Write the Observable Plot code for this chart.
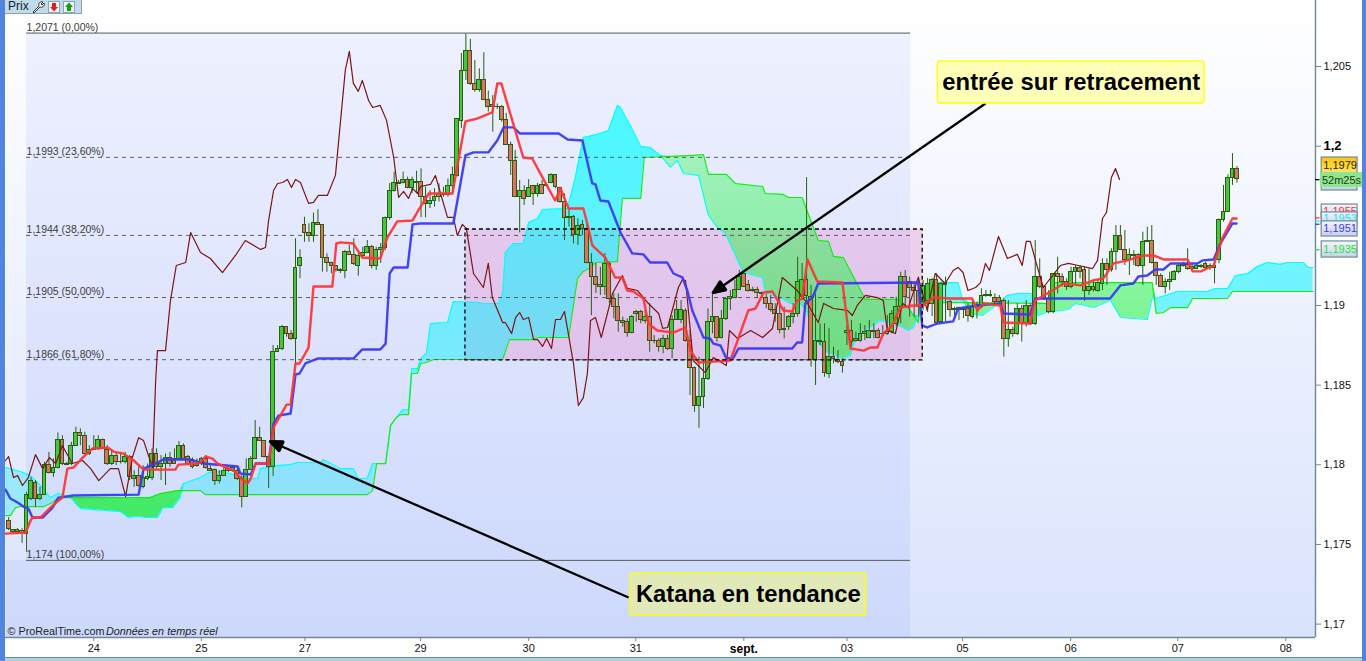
<!DOCTYPE html>
<html lang="fr">
<head>
<meta charset="utf-8">
<title>Prix</title>
<script src="https://cdn.jsdelivr.net/npm/d3@7"></script>
<script src="https://cdn.jsdelivr.net/npm/@observablehq/plot@0.6"></script>
<style>
html,body{margin:0;padding:0;background:#fff;overflow:hidden;width:1366px;height:661px;font-family:"Liberation Sans",Arial,sans-serif}
#wrap{position:relative;width:1366px;height:661px}
#wrap svg.plot{position:absolute;left:0;top:0}
.bar{position:absolute}
#tools{position:absolute;left:5px;top:0;width:77px;height:14px;background:#c3dbe8;border-bottom:1px solid #8aa4b4;border-right:1px solid #8aa4b4;font-size:12px;line-height:13px;color:#123;padding-left:3px;box-sizing:border-box;display:flex;align-items:center;gap:3px}
</style>
</head>
<body>
<div id="wrap"></div>
<script>
// Candles, one per hour
const opens=[1.17649,1.17593,1.17591,1.17582,1.17566,1.17788,1.17884,1.17786,1.17811,1.17999,1.17949,1.1798,1.18156,1.18008,1.18005,1.1812,1.182,1.18183,1.18068,1.18095,1.181,1.18156,1.18095,1.18005,1.18053,1.18016,1.1802,1.18051,1.1791,1.17927,1.17859,1.17912,1.17918,1.18068,1.17984,1.18005,1.18043,1.18037,1.18037,1.18116,1.18047,1.1803,1.18005,1.18005,1.18037,1.17974,1.17968,1.17897,1.17932,1.17974,1.17964,1.17964,1.17912,1.17796,1.17968,1.18034,1.18166,1.18152,1.18047,1.17984,
1.18706,1.18728,1.18864,1.18822,1.18791,1.19247,1.19506,1.19456,1.19435,1.19519,1.19506,1.193,1.19268,1.19247,1.19214,1.19215,1.19334,1.19318,1.19247,1.1931,1.19329,1.19366,1.19247,1.1935,1.1936,1.19551,1.19718,1.19768,1.19768,1.19789,1.19737,1.19769,1.19774,1.1968,1.19639,1.19653,1.1968,1.19701,1.19691,1.19749,1.19816,1.2016,1.2047,1.20599,1.20392,1.2035,1.20417,1.20291,1.20256,1.20249,1.20246,1.20162,1.2001,1.19906,1.19684,1.19718,1.1968,1.1975,1.19701,1.19754,1.19754,1.1977,1.1982,1.19737,1.19649,1.19551,1.19555,1.1944,1.19506,1.19481,1.19268,1.19182,
1.1913,1.19115,1.19262,1.19042,1.18989,1.189,1.18895,1.18829,1.18948,1.18958,1.189,1.18927,1.1878,1.18776,1.18738,1.18791,1.18728,1.1891,1.1891,1.18964,1.18776,1.18609,1.18372,1.18424,1.1854,1.18895,1.18927,1.18795,1.18916,1.19042,1.19048,1.19099,1.19199,1.1913,1.19092,1.191,1.1908,1.19048,1.19011,1.18969,1.18948,1.18854,1.18862,1.18927,1.18948,1.19052,1.19161,1.19052,1.18659,1.1878,1.1877,1.18571,1.18675,1.18655,1.18644,1.18829,1.18839,1.18791,1.1878,1.18822,1.18797,1.18834,1.18839,1.18824,1.18822,1.18833,1.18885,1.18989,1.19182,1.19146,1.19109,1.19094,1.19021,1.19031,1.19011,1.19161,
1.18895,1.1913,1.19021,1.18979,1.18969,1.18969,1.18979,1.18927,1.19,1.18989,1.19058,1.19063,1.19046,1.19046,1.19027,1.18791,1.18847,1.18822,1.18979,1.18889,1.18996,1.18881,1.19182,1.19115,1.19042,1.18962,1.19195,1.19178,1.19146,1.19115,1.19209,1.19236,1.1922,1.1909,1.19115,1.19094,1.19136,1.19262,1.1922,1.19334,1.19435,1.1935,1.19287,1.19308,1.19314,1.19251,1.19397,1.19402,1.19268,1.19184,1.19115,1.19146,1.19163,1.19209,1.19247,1.19255,1.19232,1.1923,1.1924,1.19262,1.19245,1.19236,1.19283,1.19534,1.19588,1.198,1.19859];
const closes=[1.17597,1.17578,1.17576,1.17569,1.17811,1.17901,1.17786,1.17811,1.17999,1.17949,1.1798,1.18156,1.18005,1.18001,1.1812,1.182,1.18183,1.18068,1.18095,1.181,1.18156,1.181,1.18005,1.18053,1.1802,1.1802,1.18051,1.17921,1.17927,1.17869,1.17915,1.17921,1.18068,1.17984,1.18005,1.18043,1.18005,1.18005,1.18116,1.18037,1.18005,1.17984,1.1799,1.18034,1.1798,1.17964,1.17897,1.17932,1.1796,1.17964,1.1798,1.17912,1.17796,1.17968,1.18034,1.18166,1.18152,1.18047,1.17984,1.18707,
1.18728,1.18864,1.18822,1.18791,1.19236,1.193,1.19456,1.19435,1.19519,1.19506,1.193,1.19268,1.19247,1.1922,1.1922,1.19334,1.19318,1.19262,1.1931,1.19329,1.19366,1.19247,1.1935,1.1936,1.19551,1.19718,1.19768,1.19763,1.19789,1.19737,1.19789,1.19774,1.1968,1.19639,1.19653,1.1968,1.19701,1.19691,1.19749,1.1982,1.20172,1.2047,1.20599,1.20392,1.2035,1.20417,1.20291,1.20249,1.20246,1.20243,1.20162,1.2001,1.19906,1.19684,1.19718,1.1967,1.19737,1.19701,1.1975,1.19701,1.19748,1.1982,1.19743,1.19649,1.19551,1.19555,1.1944,1.19502,1.19481,1.19268,1.19182,1.1913,
1.19119,1.19262,1.19042,1.18989,1.189,1.18891,1.18829,1.18927,1.18958,1.1891,1.18927,1.1878,1.18776,1.18738,1.18791,1.18728,1.18906,1.18969,1.18969,1.18776,1.18609,1.18372,1.18424,1.1854,1.18895,1.18927,1.18795,1.18916,1.19042,1.19052,1.19099,1.19182,1.19115,1.19094,1.191,1.1908,1.19073,1.19011,1.18969,1.18948,1.18849,1.18849,1.18927,1.18948,1.19146,1.19157,1.19058,1.18659,1.1878,1.18768,1.18575,1.18675,1.18665,1.18644,1.18623,1.18842,1.1877,1.1878,1.18822,1.18833,1.18839,1.18839,1.18797,1.18818,1.18833,1.18948,1.18989,1.19178,1.19052,1.19109,1.19094,1.18989,1.19122,1.19138,1.19161,1.18889,
1.19136,1.1914,1.18973,1.18969,1.18983,1.18979,1.18933,1.18989,1.18989,1.19058,1.19063,1.19058,1.19021,1.19021,1.18791,1.18847,1.18822,1.18979,1.18889,1.18996,1.18885,1.19182,1.19115,1.19042,1.18958,1.19195,1.19178,1.19146,1.19115,1.19209,1.19236,1.19209,1.1909,1.19115,1.19099,1.1914,1.19262,1.1922,1.19334,1.19435,1.1935,1.19287,1.19318,1.19318,1.19251,1.19397,1.19402,1.19268,1.19188,1.19119,1.19146,1.19163,1.19209,1.19247,1.19255,1.1923,1.19239,1.19247,1.19245,1.19237,1.19237,1.19251,1.19538,1.19588,1.198,1.19859,1.19791];
const highs=[1.17668,1.17593,1.17599,1.17599,1.17828,1.17921,1.17901,1.17859,1.18016,1.18078,1.18037,1.182,1.18183,1.18016,1.18141,1.18236,1.18226,1.18204,1.1812,1.18183,1.18183,1.18162,1.1812,1.18089,1.18078,1.18078,1.18078,1.18058,1.17963,1.17984,1.17995,1.18005,1.181,1.181,1.18058,1.18068,1.18078,1.181,1.18146,1.18131,1.18058,1.18043,1.18037,1.18047,1.18058,1.17995,1.17974,1.17963,1.17984,1.17984,1.17995,1.17984,1.17932,1.18037,1.18051,1.18278,1.18236,1.18152,1.18047,1.18749,
1.18749,1.18874,1.18864,1.18843,1.19419,1.1935,1.19554,1.19513,1.1958,1.19601,1.19506,1.19324,1.19272,1.19251,1.19231,1.19345,1.19377,1.19419,1.19324,1.19366,1.19408,1.19377,1.19366,1.19389,1.19555,1.19766,1.19837,1.19785,1.19837,1.19806,1.19806,1.19843,1.19858,1.19743,1.19722,1.19733,1.19764,1.19743,1.19794,1.19869,1.20172,1.20582,1.20702,1.2067,1.20538,1.20486,1.20587,1.20346,1.20318,1.20265,1.20256,1.20206,1.20026,1.19973,1.19785,1.19753,1.1979,1.19754,1.19766,1.19785,1.19764,1.19827,1.1982,1.19743,1.19701,1.19607,1.19565,1.19544,1.19534,1.19513,1.19325,1.19264,
1.1924,1.19327,1.19272,1.19075,1.19073,1.18927,1.18916,1.18937,1.18969,1.18969,1.18969,1.19011,1.18812,1.18791,1.18812,1.18812,1.18937,1.19031,1.19031,1.18979,1.18843,1.18613,1.18675,1.18655,1.18979,1.19084,1.18927,1.18969,1.19042,1.19094,1.19157,1.1922,1.19209,1.19157,1.19115,1.19115,1.19084,1.19073,1.19063,1.19011,1.19052,1.18989,1.18937,1.19011,1.19303,1.19264,1.19802,1.19126,1.19073,1.18885,1.18885,1.18854,1.18738,1.18717,1.18665,1.18873,1.18906,1.18833,1.18885,1.18874,1.18906,1.18885,1.18854,1.18874,1.18937,1.18969,1.19052,1.19209,1.1922,1.19178,1.19146,1.19178,1.19157,1.1917,1.1917,1.19199,
1.19146,1.19178,1.19031,1.18989,1.18989,1.18989,1.19011,1.19031,1.19021,1.19105,1.19094,1.19094,1.19073,1.19063,1.19042,1.19031,1.18864,1.19011,1.19,1.19031,1.19011,1.19408,1.19293,1.19126,1.19094,1.19199,1.19303,1.19199,1.19168,1.1924,1.19251,1.19251,1.19245,1.1923,1.19157,1.19157,1.19293,1.19293,1.19356,1.19502,1.19502,1.19471,1.19356,1.19345,1.19325,1.1946,1.19492,1.19502,1.19272,1.19199,1.19168,1.19209,1.1922,1.19262,1.19272,1.19356,1.19262,1.19262,1.19257,1.19272,1.19262,1.19272,1.19544,1.19754,1.1982,1.19953,1.19873];
const lows=[1.17587,1.17568,1.17568,1.17507,1.17451,1.17775,1.17733,1.17775,1.17807,1.17943,1.17921,1.17974,1.17995,1.17995,1.17995,1.1812,1.1812,1.18064,1.18058,1.18095,1.18089,1.181,1.17995,1.17995,1.17995,1.18005,1.18005,1.17901,1.17859,1.17859,1.17849,1.17901,1.17901,1.17974,1.17901,1.1787,1.17984,1.18005,1.18027,1.18027,1.17995,1.17974,1.17984,1.17995,1.17974,1.17964,1.1787,1.1788,1.17932,1.17953,1.17953,1.17901,1.17729,1.17796,1.17964,1.18033,1.18152,1.18043,1.17851,1.17926,
1.18706,1.18717,1.18801,1.1878,1.18623,1.19168,1.19397,1.19397,1.19397,1.19502,1.19209,1.19209,1.19199,1.19209,1.19201,1.19168,1.19314,1.19251,1.19184,1.19303,1.19325,1.1923,1.1922,1.19264,1.19345,1.19534,1.19712,1.1976,1.19764,1.19733,1.19703,1.19703,1.19551,1.19551,1.19609,1.19617,1.19649,1.1968,1.1968,1.19701,1.19806,1.20112,1.20413,1.20381,1.20339,1.20339,1.20287,1.20214,1.20088,1.2023,1.20151,1.20005,1.19816,1.1968,1.19456,1.19628,1.1968,1.19628,1.1968,1.19701,1.19743,1.19764,1.19733,1.19642,1.19408,1.19492,1.19387,1.19377,1.1944,1.19261,1.18937,1.19075,
1.19063,1.19063,1.19013,1.18916,1.18832,1.18864,1.18801,1.18822,1.18895,1.18885,1.18885,1.18707,1.1876,1.18707,1.18697,1.18717,1.18665,1.18906,1.18885,1.1877,1.18435,1.1833,1.18229,1.18353,1.18529,1.18822,1.1877,1.18791,1.18906,1.18969,1.19042,1.19094,1.19115,1.19084,1.19084,1.19042,1.19063,1.18979,1.18958,1.18895,1.18822,1.18791,1.18843,1.18885,1.18927,1.19031,1.19013,1.18613,1.18498,1.18749,1.1855,1.18542,1.18634,1.18634,1.18575,1.18749,1.18738,1.1877,1.1877,1.1878,1.18791,1.18791,1.18791,1.18801,1.18812,1.18822,1.18864,1.18885,1.18989,1.18927,1.18927,1.18927,1.18969,1.18956,1.18931,1.18885,
1.18885,1.18895,1.18927,1.18916,1.18906,1.18918,1.18895,1.18916,1.18916,1.18979,1.19052,1.19052,1.19011,1.19011,1.18675,1.18738,1.18801,1.18812,1.1877,1.18864,1.18874,1.18874,1.19105,1.19031,1.18948,1.18948,1.19073,1.19115,1.19094,1.19105,1.19126,1.19168,1.19027,1.19063,1.19084,1.19084,1.19094,1.19126,1.19209,1.1922,1.19345,1.19251,1.19188,1.19251,1.1924,1.19126,1.19397,1.19261,1.19126,1.19115,1.19073,1.19094,1.19157,1.19199,1.1924,1.1922,1.1922,1.19224,1.19232,1.1923,1.1922,1.19136,1.19262,1.19523,1.19586,1.19754,1.19768];
const firstBarHour=-19;

// Conversion line (red)
const tenkanHour=[-19.7,-15.2,-14.1,-13.7,-11.9,-9.2,-7,-5.9,-4.5,-2.5,-0.3,3.1,4.4,6.6,8.9,11.1,18.2,18.9,23.1,23.8,24.9,26.5,27.6,31.2,32.7,34.3,35,36.1,39,40.1,41,43,43.9,45,45.9,47.9,49,53.2,54.1,55,57.9,59.9,63.9,65.5,67.7,71.1,72.4,74.7,80,82.9,85.6,88.9,90,90.9,95.8,97.8,99.6,102.9,104.1,105.9,109.2,110.3,111.2,114.1,116.3,117.9,119,120.4,122.6,123.7,125.7,129.3,132,133.1,134.9,138.2,142,143.6,146,147.6,149.4,151.4,153.8,155.8,156.9,158,159.2,161.4,167,168.8,171.7,173.2,174.8,176.1,178.1,179.9,182.8,185,187.3,191,195.9,197.1,198.4,202.2,202.9,208.9,210,212.7,214.9,216.3,220.1,222.8,225.2,227.5,230.6,234.1,236.4,238.6,244,245.1,246.9,249.8,251.8,254,254.9];
const tenkanPrice=[1.17568,1.17574,1.1765,1.17669,1.17669,1.17744,1.17794,1.17976,1.17983,1.18045,1.18102,1.18108,1.18083,1.1807,1.18027,1.1797,1.1797,1.18001,1.18008,1.18014,1.18052,1.18039,1.18008,1.17964,1.1792,1.17882,1.17914,1.18008,1.18008,1.18234,1.18278,1.18378,1.18378,1.18636,1.18636,1.18736,1.19119,1.19119,1.19389,1.19396,1.19389,1.19301,1.19295,1.19427,1.19528,1.19534,1.19597,1.19703,1.19703,1.20156,1.20174,1.20212,1.20394,1.20394,1.19929,1.19923,1.19829,1.19659,1.19735,1.19609,1.19609,1.1949,1.19377,1.19301,1.19176,1.19176,1.19094,1.19088,1.19044,1.18887,1.18843,1.1883,1.18862,1.18717,1.18642,1.18648,1.18655,1.1878,1.18969,1.18981,1.19082,1.19088,1.18969,1.18962,1.19031,1.19044,1.19289,1.19151,1.19144,1.1873,1.18717,1.18736,1.18736,1.18824,1.18874,1.18987,1.19,1.19,1.1905,1.19044,1.19044,1.18969,1.19013,1.19,1.18893,1.18887,1.19031,1.19075,1.19113,1.19138,1.19126,1.19157,1.1917,1.19264,1.19283,1.19314,1.19314,1.19289,1.19289,1.19214,1.19214,1.19251,1.19427,1.19546,1.19546];

// Base line (blue)
const kijunHour=[-19.7,-18.6,-17,-15.7,-14.6,-13.7,-11.4,-9.2,-7.9,-4.5,10,11.1,13.8,15.5,21.6,24.5,32.1,32.7,35,36.1,39,40.1,41.2,43.9,45,45.9,47.2,49.9,57.9,59.9,63.9,65.1,66,66.9,70,71.1,72.9,80.2,82.9,84.7,88,90,91.4,93.6,95,103.7,105.7,109,111.2,111.9,113,114.8,117.5,120.1,122.6,124.1,127.9,129.3,131.3,132.4,133.5,136,137.5,138.2,139.8,141.1,142.7,143.8,155.8,156.9,158,158.7,160.3,161.6,183.9,184.8,185.9,188.2,191.7,192.8,197.1,202.2,202.9,208.9,210,226.7,229,231.9,233,235,236.8,238.6,240.2,246.2,247.3,249.8,251.3,254,254.9];
const kijunPrice=[1.17844,1.17788,1.17763,1.17738,1.17725,1.17669,1.17669,1.17731,1.17794,1.17807,1.17813,1.17976,1.18008,1.18033,1.18033,1.18008,1.17989,1.17945,1.17939,1.18008,1.18008,1.18259,1.18309,1.18322,1.18567,1.18573,1.18636,1.18667,1.18667,1.18724,1.18724,1.18761,1.19201,1.19239,1.19239,1.19509,1.19515,1.19515,1.19942,1.19961,1.19961,1.20036,1.20118,1.20118,1.2008,1.2008,1.20042,1.20036,1.19766,1.1976,1.19659,1.19653,1.19458,1.19327,1.19321,1.1927,1.1927,1.19201,1.19176,1.19094,1.18969,1.18799,1.18793,1.18761,1.18749,1.18667,1.18673,1.1873,1.1873,1.18768,1.18768,1.19013,1.1905,1.19138,1.19144,1.18874,1.18862,1.18887,1.189,1.18981,1.19,1.19013,1.1895,1.18943,1.19044,1.19044,1.19126,1.19138,1.19182,1.19188,1.19226,1.19226,1.19264,1.19264,1.19283,1.19289,1.19389,1.19515,1.19515];

// Lagging span (dark red)
const chikouHour=[-19.7,-19,-17.9,-17,-15.9,-14.6,-13,-11.4,-9.9,-8.5,-7,-4.8,-2.5,-0.7,1.1,3.7,5.5,7.1,8.6,10,11.1,13.1,13.8,14.2,16,17.1,18.4,20.5,21.6,23.8,26,28.7,31.6,33.8,37.2,38.3,39,40.1,41,42.1,43.2,44.1,45,46.1,47.9,49,50.1,52.1,53.9,56.1,57,57.9,59,59.9,61.3,62.2,63.9,65.3,66.9,68,69.1,70.2,71.1,72.2,72.9,75.1,76.2,78.9,80.2,81.1,82.2,83.1,84.7,86.9,88,88.9,91.2,91.8,93.2,94.1,95,95.8,97,98.1,99,100.1,101,102.1,103,104.1,105,107,108.1,109.2,110.1,110.8,111.9,113.2,115.7,117.9,119,121.3,123.5,126,126.9,128,130.4,131.3,132,133.7,136.4,138.2,141.1,141.8,143.6,146.5,149.2,151.4,153.6,156.9,159.2,161.6,162.8,165,168.1,169.2,170.3,172.1,174.8,176.1,177,178.8,180.4,181.7,183.9,185.9,187.7,189.9,191.7,192.8,193.9,195,196.7,197.8,198.9,199.8,201.8,203.8,206,207.1,208,208.9,210.5,211.8,215.6,217.4,219.6,222.8,223.9,225,225.9,227,227.9,228.8];
const chikouPrice=[1.18027,1.18052,1.1792,1.17932,1.1787,1.1792,1.18064,1.17976,1.18045,1.18008,1.1812,1.18008,1.18027,1.17976,1.17901,1.17976,1.17976,1.178,1.18045,1.1817,1.18152,1.17983,1.18529,1.18717,1.18717,1.19031,1.19251,1.1927,1.19458,1.19333,1.19295,1.19207,1.19314,1.19408,1.19352,1.19364,1.19534,1.19722,1.19766,1.19772,1.19791,1.19741,1.19791,1.19772,1.19641,1.19647,1.19691,1.19691,1.19817,1.20476,1.20595,1.20394,1.20344,1.20413,1.20287,1.20243,1.20256,1.20162,1.19929,1.19678,1.19716,1.19672,1.19735,1.19703,1.19747,1.1976,1.19816,1.19553,1.19553,1.1944,1.19509,1.19484,1.19201,1.19113,1.19264,1.1905,1.18893,1.18893,1.18824,1.18925,1.18956,1.18912,1.18925,1.18786,1.18786,1.18743,1.18793,1.1873,1.18912,1.18912,1.18962,1.18636,1.18372,1.18422,1.18573,1.18906,1.18925,1.18799,1.19075,1.19188,1.19107,1.19094,1.19019,1.1895,1.18856,1.18862,1.19113,1.19163,1.19157,1.18655,1.18579,1.18673,1.18623,1.18843,1.18793,1.18843,1.18799,1.18856,1.19176,1.19094,1.19013,1.18893,1.19013,1.18981,1.18969,1.18937,1.19,1.19063,1.1905,1.19031,1.18843,1.18824,1.19013,1.18987,1.19176,1.18969,1.19201,1.19138,1.1922,1.19239,1.19207,1.19094,1.19113,1.19144,1.19264,1.1922,1.19433,1.19295,1.19321,1.19251,1.19402,1.19402,1.19239,1.19113,1.19251,1.19264,1.19251,1.19232,1.19283,1.19546,1.19584,1.19804,1.1986,1.19791];

// Leading span A (cyan)
const spanAHour=[-19.7,-16.4,-14.1,-12.3,-9.7,-7.9,-5.2,-3,6,7.7,10,11.5,14.2,15.5,17.6,19.3,20,23.8,25.6,28.3,31.2,34.3,36.5,37.2,41,43.9,45.4,50.6,51.2,55,57.9,59,61,62.2,65.1,66.2,67.3,68.9,70.2,70.9,72.2,72.9,74.2,75.1,78.9,80.2,85.6,86.9,90.3,91.2,91.8,93.6,95.8,97,99,100.1,105.7,107.4,109.2,111.4,112.3,114.8,116.8,117.5,119.7,122,124.1,126.4,128.6,130.2,131.5,134.9,137.1,139.1,140.9,144.9,149.2,149.8,153.2,155.4,157.6,159.2,160.5,163.7,167.2,168.8,169.9,172.6,175.5,178.4,181.7,182.8,184.4,185.5,186.2,187.7,192.8,193.7,195.5,198.2,201.8,203.8,206,209.6,210.7,212.3,217.3,219,223,226.8,229,235,236.1,237,241.7,248.4,250.2,252.9,254.7,257.5,259.5,261.8,264.7,266.2,269.8,270.9,272];
const spanAPrice=[1.17983,1.17958,1.17932,1.17882,1.17794,1.1782,1.17794,1.17725,1.17706,1.17669,1.17675,1.17669,1.17669,1.17731,1.17731,1.17794,1.17882,1.1792,1.17951,1.17958,1.17939,1.17914,1.17914,1.17976,1.17995,1.18001,1.18014,1.18014,1.18033,1.17976,1.17976,1.17914,1.17914,1.18008,1.18008,1.18246,1.1829,1.18347,1.18347,1.18604,1.18604,1.18667,1.18699,1.18887,1.18893,1.19025,1.19019,1.19013,1.19013,1.19075,1.19333,1.19389,1.19389,1.19521,1.19546,1.19603,1.19609,1.19804,1.20055,1.20068,1.20074,1.20099,1.20256,1.20243,1.2013,1.19999,1.19992,1.19942,1.19867,1.19911,1.19829,1.19817,1.19565,1.1949,1.19452,1.19207,1.19176,1.19082,1.1905,1.19013,1.19013,1.18956,1.18799,1.18705,1.18667,1.18686,1.18793,1.18856,1.18906,1.18893,1.18843,1.18862,1.18969,1.19113,1.19075,1.19144,1.19144,1.19044,1.1895,1.18937,1.19013,1.19063,1.19075,1.19075,1.18937,1.18956,1.18975,1.19013,1.18987,1.19031,1.18925,1.18912,1.1905,1.19044,1.19088,1.19088,1.19107,1.19107,1.19188,1.19201,1.19245,1.1927,1.19258,1.1927,1.1927,1.19239,1.19239];

// Leading span B (green)
const spanBHour=[-19.7,-18.6,-17.5,-16.4,-11.2,-9.2,-7.9,12.6,14.9,18.7,23.8,24.9,61,62.2,63.1,65.1,66.2,67.3,68.4,70.2,70.9,72.2,72.9,74.2,75.8,91.2,92.7,97.8,99,105.9,107.9,109.2,110.8,111.9,116.8,117.9,122,122.8,133.8,136,137.1,141.1,143.1,149.2,149.8,153.8,155,158,161.6,163.9,165,167.2,172.1,179.5,181.7,183.9,184.4,212.7,214,236.1,237,238.6,240.2,244,245.1,252.9,254,272];
const spanBPrice=[1.17681,1.17681,1.17731,1.17738,1.17738,1.17763,1.17794,1.17794,1.1782,1.17838,1.17838,1.17813,1.17813,1.17838,1.18008,1.18008,1.18246,1.1829,1.18315,1.18315,1.18573,1.18573,1.18636,1.18642,1.18661,1.18661,1.18786,1.18786,1.18799,1.18799,1.1917,1.19214,1.19239,1.1927,1.19276,1.19672,1.19672,1.19929,1.19942,1.19948,1.19823,1.19823,1.19766,1.19747,1.19703,1.19697,1.19678,1.19678,1.19408,1.19402,1.19308,1.19301,1.19038,1.19038,1.18987,1.18893,1.19019,1.19013,1.19144,1.19144,1.1895,1.18956,1.18987,1.18987,1.19044,1.19044,1.19088,1.19088];

// Fibonacci levels
const fibLevels=[1.2071,1.1993,1.1944,1.1905,1.1866,1.174];
const fibLabels=["1,2071 (0,00%)","1,1993 (23,60%)","1,1944 (38,20%)","1,1905 (50,00%)","1,1866 (61,80%)","1,174 (100,00%)"];
const fibStartHour=-15, fibEndHour=182.2, plotStartHour=-19.696, plotEndHour=272.52, plotLow=1.169159, plotHigh=1.209146;

// Retracement zone
const zoneStartHour=82.9, zoneEndHour=184.9, zoneTop=1.19477, zoneBottom=1.18655;

// Axis labels
const xTickHours=[0,24,47.1,72.9,97,120.9,145,168,193.8,217.9,241.8,265.9];
const xTickLabels=["24","25","27","29","30","31","sept.","03","05","06","07","08"];
const yTickValues=[1.17,1.175,1.18,1.185,1.19,1.2,1.205];
const yTickLabels=["1,17","1,175","1,18","1,185","1,19","1,2","1,205"];

// Right-hand price tags
const tagLabels=["1,1975","1,1955","1,1953","1,1951","1,1935","1,1979","52m25s"];
const tagTops=[1.19835,1.19634,1.19584,1.19528,1.19402,1.19929,1.19835];
const tagBottoms=[1.19722,1.19546,1.19509,1.19433,1.19301,1.19829,1.19741];
const tagColors=["#8b1a3a","#ff3030","#18e8f0","#3a3af0","#18e818","#222222","#1d3d1d"];
const tagFills=["url(#tag)","url(#tag)","url(#tag)","url(#tag)","url(#tag)","url(#tagGold)","#8ee58c"];
const tagStroke=["#708a9a","#708a9a","#708a9a","#708a9a","#708a9a","#708a9a","none"];
const tagStartHours=[273.9,273.9,273.9,273.9,273.9,273.9,273.6];
const tagEndHours=[281.9,281.9,281.9,281.9,281.9,281.9,283];
const tagMarks=[1.1979,1.1955,1.1953,1.1951,1.1935];
const tagMarkColors=["#000000","#ff3030","#18e8f0","#3a3af0","#18e818"];

// Annotations
const noteTexts=["entrée sur retracement","Katana en tendance"];
const noteStart=[188.3,119.7], noteEnd=[247.8,172.3], noteTop=[1.20533,1.17317], noteBottom=[1.20268,1.17053];
const noteFill=["#ffffb8","#e1e9b9"];
const arrowFromHour=[198.9,119.3], arrowFromPrice=[1.20268,1.17167], arrowToHour=[138.2,39.4], arrowToPrice=[1.19082,1.18146];

// Assembled tables
const bars=opens.map((o,i)=>({h:firstBarHour+i,open:o,close:closes[i],high:highs[i],low:lows[i]}));
const up=bars.filter(d=>d.close>=d.open), down=bars.filter(d=>d.close<d.open);
const pairs=(xs,ys)=>xs.map((h,i)=>({h,p:ys[i]}));
const valueAt=(xs,ys,x)=>{const j=Math.min(Math.max(d3.bisectLeft(xs,x),1),xs.length-1);const t=(x-xs[j-1])/(xs[j]-xs[j-1]);return ys[j-1]+t*(ys[j]-ys[j-1]);};
const cloud=Array.from(new Set([...spanAHour,...spanBHour])).sort(d3.ascending).map(h=>{
  const a=valueAt(spanAHour,spanAPrice,h),b=valueAt(spanBHour,spanBPrice,h);
  return {h,a,b,top:Math.max(a,b)};
});
const fib=fibLevels.map((p,i)=>({p,label:fibLabels[i],solid:i===0||i===fibLevels.length-1}));
const tags=tagLabels.map((label,i)=>({label,top:tagTops[i],bottom:tagBottoms[i],color:tagColors[i],fill:tagFills[i],stroke:tagStroke[i],x1:tagStartHours[i],x2:tagEndHours[i]}));
const notes=noteTexts.map((text,i)=>({text,x1:noteStart[i],x2:noteEnd[i],top:noteTop[i],bottom:noteBottom[i],fill:noteFill[i]}));
const arrows=arrowToHour.map((_,i)=>({x1:arrowFromHour[i],y1:arrowFromPrice[i],x2:arrowToHour[i],y2:arrowToPrice[i]}));
const xName=new Map(xTickHours.map((h,i)=>[h,xTickLabels[i]]));
const yName=new Map(yTickValues.map((v,i)=>[v,yTickLabels[i]]));

const NS="http://www.w3.org/2000/svg";
function gradient(defs,id,attrs,stops){
  const g=document.createElementNS(NS,"linearGradient");g.setAttribute("id",id);
  for(const k in attrs)g.setAttribute(k,attrs[k]);
  for(const [o,c,a] of stops){const s=document.createElementNS(NS,"stop");s.setAttribute("offset",o);s.setAttribute("stop-color",c);s.setAttribute("stop-opacity",a);g.appendChild(s);}
  defs.appendChild(g);
}
function gradients(){
  const defs=document.createElementNS(NS,"defs");
  gradient(defs,"bg",{x1:0,y1:0,x2:0,y2:1},[[0,"#ffffff",1],[1,"#d9e3fd",1]]);
  gradient(defs,"cy",{gradientUnits:"userSpaceOnUse",x1:0,x2:0,y1:120,y2:510},[[0,"#00ffff",.68],[1,"#00e8ff",.3]]);
  gradient(defs,"gr",{gradientUnits:"userSpaceOnUse",x1:0,x2:0,y1:160,y2:510},[[0,"#00ff20",.3],[1,"#00f020",.68]]);
  gradient(defs,"tag",{x1:0,y1:0,x2:0,y2:1},[[0,"#f4f6fb",1],[1,"#c6d0ec",1]]);
  gradient(defs,"tagGold",{x1:0,y1:0,x2:0,y2:1},[[0,"#ffc400",1],[1,"#ffe66a",1]]);
  return defs;
}
function head(color){
  const m=document.createElementNS(NS,"marker");
  m.setAttribute("viewBox","-14 -7 16 14");m.setAttribute("markerWidth",16);m.setAttribute("markerHeight",14);
  m.setAttribute("markerUnits","userSpaceOnUse");m.setAttribute("orient","auto");m.setAttribute("refX",0);m.setAttribute("refY",0);
  const p=document.createElementNS(NS,"path");p.setAttribute("d","M-12,-5.5L1,0L-12,5.5Z");p.setAttribute("fill",color);m.appendChild(p);
  return m;
}
const wickColor="#2b5e10", upFill="#45c63f", downFill="#e0705f", gridText="#111";
const font="Liberation Sans";

const chart=Plot.plot({
  width:1366,height:661,marginLeft:5,marginRight:51,marginTop:0,marginBottom:24,
  style:{background:"transparent",fontFamily:font,fontSize:"11px",overflow:"visible"},
  x:{domain:[plotStartHour,plotEndHour],axis:null},
  y:{domain:[plotLow,plotHigh],axis:null},
  marks:[
    gradients,
    Plot.frame({fill:"url(#bg)",stroke:"none"}),
    Plot.rect([0],{x1:fibStartHour,x2:fibEndHour,y1:fibLevels[0],y2:fibLevels[5],fill:"#0028f0",fillOpacity:.06}),
    Plot.rect([0],{x1:plotStartHour,x2:fibEndHour,y1:plotLow,y2:fibLevels[5],fill:"#0028f0",fillOpacity:.05}),
    Plot.rect([0],{x1:zoneStartHour,x2:zoneEndHour,y1:zoneBottom,y2:zoneTop,fill:"#e685ca",fillOpacity:.33}),
    Plot.areaY(cloud,{x:"h",y1:"b",y2:"top",fill:"url(#cy)"}),
    Plot.areaY(cloud,{x:"h",y1:"a",y2:"top",fill:"url(#gr)"}),
    Plot.line(pairs(spanAHour,spanAPrice),{x:"h",y:"p",stroke:"#00ffff",strokeWidth:1.1}),
    Plot.line(pairs(spanBHour,spanBPrice),{x:"h",y:"p",stroke:"#12ee12",strokeWidth:1.2}),
    ...fib.map(d=>Plot.ruleY([d.p],{x1:fibStartHour,x2:fibEndHour,stroke:"#5c5c5c",strokeWidth:1,strokeDasharray:d.solid?null:"4,4"})),
    Plot.ruleX(bars,{x:"h",y1:"low",y2:"high",stroke:wickColor,strokeWidth:1}),
    Plot.rect(up,{x1:d=>d.h-.42,x2:d=>d.h+.42,y1:"open",y2:"close",fill:upFill,stroke:wickColor,strokeWidth:1,shapeRendering:"crispEdges"}),
    Plot.rect(down,{x1:d=>d.h-.42,x2:d=>d.h+.42,y1:"open",y2:"close",fill:downFill,stroke:wickColor,strokeWidth:1,shapeRendering:"crispEdges"}),
    Plot.line(pairs(chikouHour,chikouPrice),{x:"h",y:"p",stroke:"#7d1414",strokeWidth:1.2}),
    Plot.line(pairs(kijunHour,kijunPrice),{x:"h",y:"p",stroke:"#3a3af2",strokeWidth:2.4,strokeOpacity:.95}),
    Plot.line(pairs(tenkanHour,tenkanPrice),{x:"h",y:"p",stroke:"#ff3535",strokeWidth:2.4,strokeOpacity:.95}),
    Plot.rect([0],{x1:zoneStartHour,x2:zoneEndHour,y1:zoneBottom,y2:zoneTop,fill:"none",stroke:"#000",strokeWidth:1.3,strokeDasharray:"4,3"}),
    Plot.text(fib,{x:fibStartHour,y:"p",text:"label",dy:-5.5,textAnchor:"start",fill:"#3c3c3c",fontSize:10.5}),
    Plot.link(arrows,{x1:"x1",y1:"y1",x2:"x2",y2:"y2",stroke:"#000",strokeWidth:2.3,markerEnd:head}),
    Plot.rect(notes,{x1:"x1",x2:"x2",y1:"bottom",y2:"top",fill:"fill",stroke:"#ffff00",strokeWidth:1.3,rx:3}),
    Plot.text(notes,{x:d=>(d.x1+d.x2)/2,y:d=>(d.top+d.bottom)/2,text:"text",fontSize:23.8,fontWeight:"bold",fill:"#000"}),
    Plot.text(["© ProRealTime.com"],{x:plotStartHour+.45,y:1.16954,text:d=>d,textAnchor:"start",fontSize:10.8,fill:"#222"}),
    Plot.text(["Données en temps réel"],{x:2.7,y:1.16954,text:d=>d,textAnchor:"start",fontSize:10.8,fontStyle:"italic",fill:"#222"}),
    Plot.ruleY([plotLow],{stroke:"#6f8796",strokeWidth:1.4}),
    Plot.ruleX([plotEndHour],{stroke:"#6f8796",strokeWidth:1.4}),
    Plot.axisX(xTickHours.filter(h=>xName.get(h)!=="sept."),{tickFormat:h=>xName.get(h),tickSize:4,tickPadding:3,fontSize:11,stroke:"#6f8796",fill:gridText}),
    Plot.axisX(xTickHours.filter(h=>xName.get(h)==="sept."),{tickFormat:h=>xName.get(h),tickSize:4,tickPadding:3,fontSize:12,fontWeight:"bold",stroke:"#6f8796",fill:"#000"}),
    Plot.axisY(yTickValues.filter(v=>v!==1.2),{anchor:"right",tickFormat:v=>yName.get(v),tickSize:5,tickPadding:3,fontSize:11,stroke:"#6f8796",fill:gridText}),
    Plot.axisY([1.2],{anchor:"right",tickFormat:v=>yName.get(v),tickSize:5,tickPadding:3,fontSize:13,fontWeight:"bold",stroke:"#6f8796",fill:"#000"}),
    ...tagMarks.map((p,i)=>Plot.ruleY([p],{x1:plotEndHour,x2:plotEndHour+1,stroke:tagMarkColors[i],strokeWidth:1.3})),
    ...tags.map(d=>[
      Plot.rect([d],{x1:"x1",x2:"x2",y1:"bottom",y2:"top",fill:d.fill,stroke:d.stroke,strokeWidth:1.2}),
      Plot.text([d],{x:d=>d.x1+.35,y:d=>(d.top+d.bottom)/2,text:"label",textAnchor:"start",fontSize:11,fill:d.color})
    ]).flat()
  ]
});
const wrap=document.getElementById("wrap");
wrap.appendChild(chart);
wrap.insertAdjacentHTML("beforeend",`
<div class="bar" style="left:0;top:0;width:5px;height:661px;background:#4f85df"></div>
<div class="bar" style="left:1362px;top:0;width:4px;height:661px;background:#4f85df"></div>
<div class="bar" style="left:5px;top:657px;width:1357px;height:4px;background:#aed0e0;border-top:1px solid #6f8796;box-sizing:border-box"></div>
<div id="tools"><span>Prix</span><svg width="13" height="12" viewBox="0 0 13 12"><path d="M1 11L7 5a3 3 0 0 1 4-4L9 3l1 1 2-2a3 3 0 0 1-4 4L2 12z" fill="#fff" stroke="#222" stroke-width=".9"/></svg><svg width="12" height="12" viewBox="0 0 12 12"><rect x=".5" y=".5" width="11" height="11" fill="#eef3f6" stroke="#8aa4b4"/><path d="M4 2h4v4h2L6 10.5 2 6h2z" fill="#e02020"/></svg><svg width="12" height="12" viewBox="0 0 12 12"><rect x=".5" y=".5" width="11" height="11" fill="#eef3f6" stroke="#8aa4b4"/><path d="M4 10h4V6h2L6 1.5 2 6h2z" fill="#10a010"/></svg></div>`);
</script>
</body>
</html>
